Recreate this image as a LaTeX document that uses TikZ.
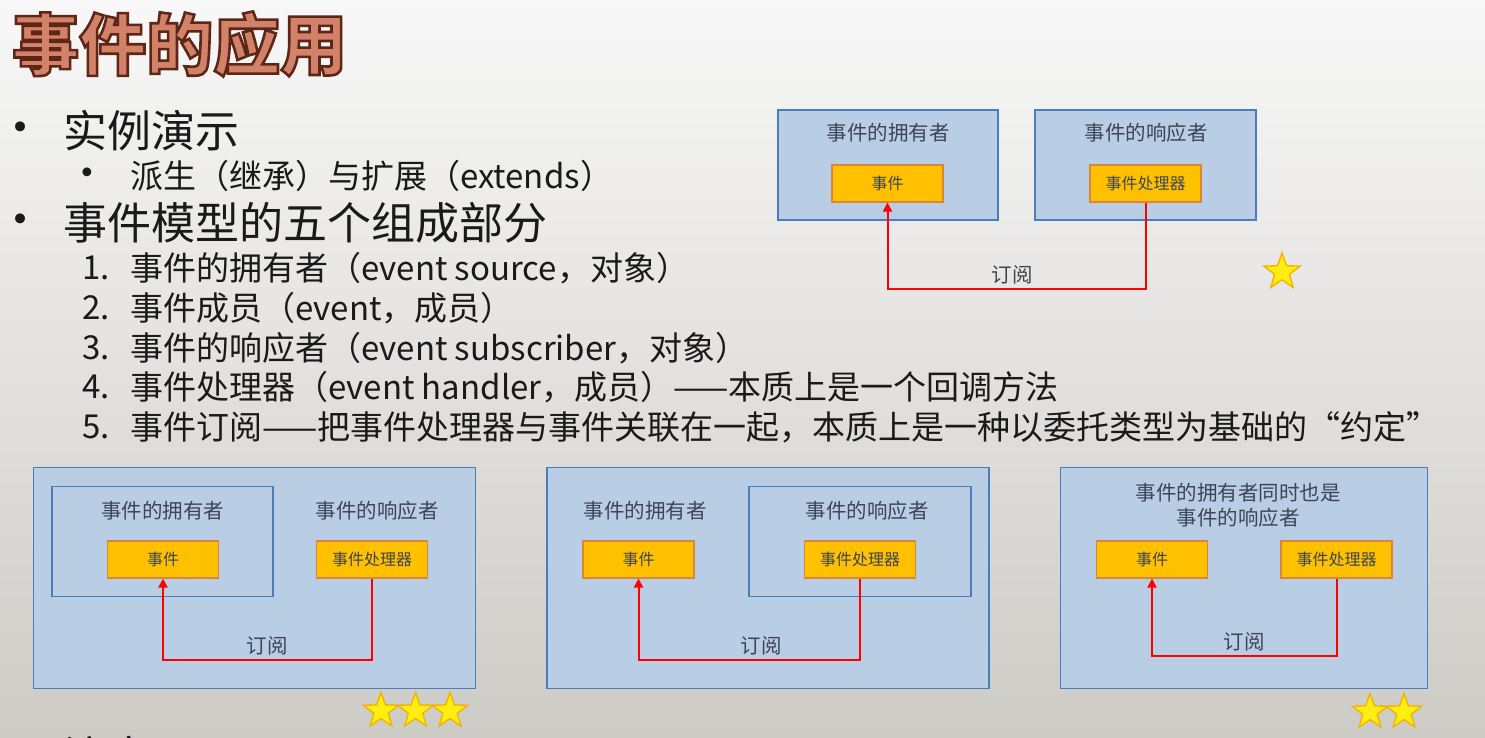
\documentclass[tikz,border=0pt]{standalone}
\usepackage{fontspec}
\setmainfont{Noto Sans CJK SC}
\newfontfamily\dotfont{DejaVu Sans}
\usetikzlibrary{shapes.geometric,arrows.meta}

\definecolor{bgtop}{HTML}{F8F8F8}
\definecolor{bgbot}{HTML}{CDCBC6}
\definecolor{boxfill}{HTML}{B9CDE5}
\definecolor{boxline}{HTML}{4A7EBB}
\definecolor{evfill}{HTML}{FFC000}
\definecolor{evline}{HTML}{D9863A}
\definecolor{labtext}{HTML}{3C4656}
\definecolor{bodytext}{HTML}{1A1A1A}
\definecolor{headfill}{HTML}{D3826A}
\definecolor{starfill}{HTML}{FFEE10}
\definecolor{starline}{HTML}{F2B400}

% outlined heading text: fill + stroke render mode, dark brown stroke
\newcommand\outlinedtext[1]{%
  \special{pdf:literal direct 2 Tr 2.6 w 0.37 0.15 0.09 RG}#1%
  \special{pdf:literal direct 0 Tr 0.4 w}}

\tikzset{
  party/.style={draw=boxline, fill=boxfill, line width=1.6pt, inner sep=0pt},
  evbox/.style={draw=evline, fill=evfill, line width=1.1pt, inner sep=0pt,
    minimum width=111pt, minimum height=37pt, text=labtext,
    font=\fontsize{16}{18}\selectfont},
  lab/.style={text=labtext, inner sep=0pt, font=\fontsize{20.5}{26}\selectfont, align=center},
  subscribe/.style={draw=red, line width=2pt,
    -{Triangle[length=9pt,width=9pt]}},
  lvlone/.style={anchor=west, inner sep=0pt, text=bodytext, font=\fontsize{44}{48}\selectfont},
  lvltwo/.style={anchor=west, inner sep=0pt, text=bodytext, font=\fontsize{33}{38}\selectfont},
  bigdot/.style={anchor=center, inner sep=0pt, text=bodytext, font=\dotfont\fontsize{34}{34}\selectfont},
  smalldot/.style={anchor=center, inner sep=0pt, text=bodytext, font=\dotfont\fontsize{30}{30}\selectfont},
  rating/.style={star, star points=5, star point ratio=2.45, draw=starline,
    fill=starfill, line width=1.4pt, inner sep=0pt, minimum size=38pt},
}

\begin{document}
\begin{tikzpicture}[x=1pt,y=-1pt]
\useasboundingbox (0,0) rectangle (1485,737);
\shade[top color=bgtop, bottom color=bgbot] (0,0) rectangle (1485,737);

% heading
\node[anchor=west, inner sep=0pt, text=headfill, font=\fontsize{67}{70}\selectfont\bfseries]
  (heading) at (12,44) {\outlinedtext{事件的应用}};

% bullet list
\node[bigdot] (b1) at (21,131) {•};
\node[lvlone] (t1) at (63,131) {实例演示};
\node[smalldot] (b2) at (87,176) {•};
\node[lvltwo] (t2) at (130,176) {派生（继承）与扩展（extends）};
\node[bigdot] (b3) at (21,223) {•};
\node[lvlone] (t3) at (63,223) {事件模型的五个组成部分};
\node[lvltwo] (n1) at (82,268) {1.};
\node[lvltwo] (i1) at (130,268) {事件的拥有者（event source，对象）};
\node[lvltwo] (n2) at (82,308) {2.};
\node[lvltwo] (i2) at (130,308) {事件成员（event，成员）};
\node[lvltwo] (n3) at (82,348) {3.};
\node[lvltwo] (i3) at (130,348) {事件的响应者（event subscriber，对象）};
\node[lvltwo] (n4) at (82,387) {4.};
\node[lvltwo] (i4) at (130,387) {事件处理器（event handler，成员）——本质上是一个回调方法};
\node[lvltwo] (n5) at (82,427) {5.};
\node[lvltwo] (i5) at (130,427) {事件订阅——把事件处理器与事件关联在一起，本质上是一种以委托类型为基础的“约定”};
\node[bigdot] (b4) at (21,756) {•};
\node[lvlone] (t4) at (63,756) {注意};

% separate owner and subscriber
\node[party, minimum width=220pt, minimum height=110pt] (a-own) at (888,165) {};
\node[party, minimum width=221pt, minimum height=110pt] (a-sub) at (1145.5,165) {};
\node[lab] (a-own-t) at (888,133) {事件的拥有者};
\node[lab] (a-sub-t) at (1146,133) {事件的响应者};
\node[evbox] (a-evt) at (887.5,183.5) {事件};
\node[evbox] (a-hnd) at (1145.5,183.5) {事件处理器};
\coordinate (a-y) at (0,289);
\draw[subscribe] (a-hnd.south) |- (a-evt.south |- a-y) -- (a-evt.south);
\node[lab] (a-lab) at (1012,275) {订阅};
\node[rating] (a-star) at (1282,272) {};

% subscriber holds the owner
\node[party, minimum width=442pt, minimum height=221pt] (b-sub) at (254.5,578) {};
\node[party, minimum width=221pt, minimum height=110pt] (b-own) at (162.5,541.5) {};
\node[lab] (b-own-t) at (162.5,511) {事件的拥有者};
\node[lab] (b-sub-t) at (377,511) {事件的响应者};
\node[evbox] (b-evt) at (163,559.5) {事件};
\node[evbox] (b-hnd) at (372,559.5) {事件处理器};
\coordinate (b-y) at (0,660);
\draw[subscribe] (b-hnd.south) |- (b-evt.south |- b-y) -- (b-evt.south);
\node[lab] (b-lab) at (267,646) {订阅};
\node[rating, minimum size=37pt] (b-s1) at (381,711) {};
\node[rating, minimum size=37pt] (b-s2) at (415.5,711) {};
\node[rating, minimum size=37pt] (b-s3) at (450,711) {};

% owner holds the subscriber
\node[party, minimum width=442pt, minimum height=221pt] (c-own) at (768,578) {};
\node[party, minimum width=222pt, minimum height=110pt] (c-sub) at (860,541.5) {};
\node[lab] (c-own-t) at (645,511) {事件的拥有者};
\node[lab] (c-sub-t) at (867,511) {事件的响应者};
\node[evbox] (c-evt) at (638.5,559.5) {事件};
\node[evbox] (c-hnd) at (860,559.5) {事件处理器};
\coordinate (c-y) at (0,660);
\draw[subscribe] (c-hnd.south) |- (c-evt.south |- c-y) -- (c-evt.south);
\node[lab] (c-lab) at (761,646) {订阅};

% owner and subscriber are one object
\node[party, minimum width=367pt, minimum height=221pt] (d-obj) at (1244,578) {};
\node[lab, font=\fontsize{20.5}{25.5}\selectfont] (d-t) at (1238,505) {事件的拥有者同时也是\\事件的响应者};
\node[evbox] (d-evt) at (1152,559.5) {事件};
\node[evbox] (d-hnd) at (1336.5,559.5) {事件处理器};
\coordinate (d-y) at (0,656);
\draw[subscribe] (d-hnd.south) |- (d-evt.south |- d-y) -- (d-evt.south);
\node[lab] (d-lab) at (1244,642) {订阅};
\node[rating, minimum size=37pt] (d-s1) at (1370,712) {};
\node[rating, minimum size=37pt] (d-s2) at (1404,712) {};
\end{tikzpicture}
\end{document}
